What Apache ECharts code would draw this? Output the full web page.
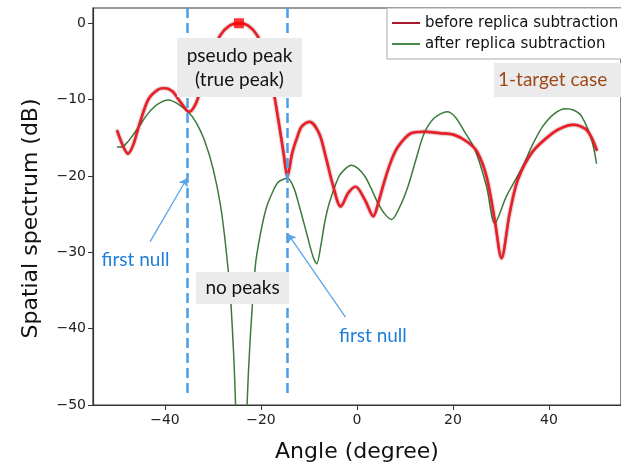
<!DOCTYPE html>
<html>
<head>
<meta charset="utf-8">
<script src="https://cdn.jsdelivr.net/npm/echarts@6/dist/echarts.min.js"></script>
<style>
html, body { margin: 0; padding: 0; background: #fff; }
#main { width: 621px; height: 469px; }
</style>
</head>
<body>
<div id="main"></div>
<script>
// spectrum before replica subtraction (red)
var beforeAngle = [-50, -48.8, -47.7, -46.6, -45.5, -43.5, -41.5, -40.1, -38.5, -36.8, -35.0, -33.5, -32.0, -30.0,
    -28.5, -26.5, -24.6, -22.7, -20.8, -19.0, -17.5, -16.3, -15.3, -14.5, -13.5, -12.5, -11.5, -9.9, -7.9, -6.5,
    -5.1, -3.4, -1.8, -0.3, 1.7, 3.4, 4.4, 5.8, 7.2, 8.5, 11.3, 14.0, 17.4, 20.2, 22.9, 25.0, 27.0, 28.7, 30.1,
    31.8, 33.5, 36.6, 40.7, 43.0, 45.1, 47.9, 50.0];
var beforeDb = [-14.0, -16.0, -17.1, -15.9, -13.6, -10.0, -8.7, -8.5, -8.9, -10.3, -11.6, -10.4, -7.5, -4.0,
    -1.6, -0.3, 0, -0.3, -1.6, -4.2, -8.5, -13.0, -17.0, -20.1, -17.0, -15.0, -13.5, -12.9, -14.4, -17.5,
    -21.0, -24.0, -22.2, -21.4, -23.2, -25.3, -23.6, -20.5, -17.9, -16.2, -14.4, -14.2, -14.4, -14.6, -15.5, -16.8, -20.1, -25.8, -30.8,
    -24.9, -20.5, -16.8, -14.4, -13.6, -13.3, -14.0, -16.7];

// spectrum after replica subtraction (green)
var afterAngle = [-50, -49, -48, -46.5, -45.5, -43.5, -41.5, -39.3, -37.5, -35.2, -33.5, -31.8, -30, -28.4, -27.3,
    -26.3, -25.3, -24.1, -22.9, -21.2, -20, -18.8, -17.5, -16.4, -14.5, -13.2, -12, -10.5, -9.2, -8.4, -7.5, -6.7,
    -5.8, -3.8, -2.5, -1.2, 0.2, 1.7, 3.0, 4.4, 5.8, 7.2, 8.8, 10.6, 12.3, 14, 16.1, 18.8, 20.5, 22.2, 24.6, 27,
    28.7, 31.1, 34.5, 36.5, 38.6, 41, 43.4, 45.2, 46.8, 48.9, 49.9];
var afterDb = [-16.2, -16.2, -15.7, -14.5, -13.6, -11.8, -10.6, -10.05, -10.5, -11.6, -13.0, -15.3, -19.0, -24.0, -29.5,
    -36.3, -50, -85, -50, -31.9, -27.2, -24.0, -22.0, -20.8, -20.3, -21.5, -24.0, -27.5, -30.5, -31.5, -29.0, -26.0,
    -23.6, -20.1, -19.1, -18.6, -19.0, -20.1, -21.7, -23.6, -25.0, -25.7, -24.2, -21.4, -17.8, -14.4, -12.4, -11.6, -12.3, -14.0, -16.6, -21.4,
    -26.2, -22.7, -18.8, -16.0, -13.6, -11.9, -11.2, -11.4, -12.2, -15.3, -18.4];

var peakAngle = [-24.6];
var peakDb = [0];
var nullAngles = [-35.4, -14.5];

var xTicks = [-40, -20, 0, 20, 40];
var yTicks = [-50, -40, -30, -20, -10, 0];

function pairs(xs, ys) {
    return xs.map(function (x, i) { return [x, ys[i]]; });
}
function minus(v) {
    return String(v).replace('-', '\u2212');
}

var myChart = echarts.init(document.getElementById('main'));

var axisFont = 'DejaVu Sans';
var noteFont = '19px Lato';

myChart.setOption({
    animation: false,
    grid: {
        left: 93, top: 8, right: -8, bottom: 64,
        show: true, borderColor: '#333', borderWidth: 1.2
    },
    legend: {
        orient: 'vertical',
        left: 387, top: 8,
        icon: 'rect',
        itemWidth: 28, itemHeight: 2, itemGap: 5,
        padding: [7, 4, 7, 5],
        backgroundColor: '#fff',
        borderColor: '#aaa', borderWidth: 1,
        textStyle: { fontFamily: axisFont, fontSize: 15, lineHeight: 16, color: '#111' },
        data: [
            { name: 'before replica subtraction', itemStyle: { color: '#a8182e' } },
            { name: 'after replica subtraction', itemStyle: { color: '#4a8a4a' } }
        ]
    },
    xAxis: {
        type: 'value', min: -55, max: 55,
        name: 'Angle (degree)', nameLocation: 'middle', nameGap: 36,
        nameTextStyle: { fontFamily: axisFont, fontSize: 22, color: '#111' },
        axisLine: { onZero: false, lineStyle: { color: '#333', width: 1.2 } },
        axisTick: { customValues: xTicks, length: 5, lineStyle: { color: '#333' } },
        axisLabel: { customValues: xTicks, margin: 8, fontFamily: axisFont, fontSize: 14, color: '#222', formatter: minus },
        splitLine: { show: false }
    },
    yAxis: {
        type: 'value', min: -50, max: 2,
        name: 'Spatial spectrum (dB)', nameLocation: 'middle', nameGap: 51,
        nameTextStyle: { fontFamily: axisFont, fontSize: 22, color: '#111', padding: [0, 24, 0, 0] },
        axisLine: { show: true, onZero: false, lineStyle: { color: '#333', width: 1.2 } },
        axisTick: { show: true, customValues: yTicks, length: 5, lineStyle: { color: '#333' } },
        axisLabel: { customValues: yTicks, margin: 7, fontFamily: axisFont, fontSize: 14, color: '#222', formatter: minus },
        splitLine: { show: false }
    },
    series: [
        {
            name: 'after replica subtraction',
            type: 'line',
            data: pairs(afterAngle, afterDb),
            smooth: 0.3,
            symbol: 'none',
            z: 2,
            itemStyle: { color: '#4a8a4a' },
            lineStyle: { color: '#3a7a3a', width: 1.5 }
        },
        {
            name: 'before replica subtraction',
            type: 'line',
            data: pairs(beforeAngle, beforeDb),
            smooth: 0.3,
            symbol: 'none',
            z: 3,
            itemStyle: { color: '#a8182e' },
            lineStyle: { color: '#ee1c24', width: 2.4, shadowColor: 'rgba(120,0,20,0.8)', shadowBlur: 2 }
        },
        {
            name: 'peak',
            type: 'scatter',
            data: pairs(peakAngle, peakDb),
            symbol: 'rect',
            symbolSize: 10,
            z: 5,
            itemStyle: { color: '#ff0000' }
        },
        {
            // first nulls
            name: 'nulls',
            type: 'line',
            data: [],
            z: 6,
            markLine: {
                silent: true,
                symbol: ['none', 'none'],
                label: { show: false },
                lineStyle: { type: [10, 5], color: '#4a9fe6', width: 2.5 },
                data: nullAngles.map(function (a) {
                    return [{ coord: [a, 2] }, { coord: [a, -48.7] }];
                })
            }
        },
        {
            name: 'arrows',
            type: 'line',
            data: [],
            z: 6,
            markLine: {
                silent: true,
                symbol: ['none', 'arrow'],
                symbolSize: 8,
                label: { show: false },
                lineStyle: { type: 'solid', color: '#5aa5e8', width: 1.3 },
                data: [
                    [{ coord: [-43.1, -28.6] }, { coord: [-35.4, -20.3] }],
                    [{ coord: [-2.4, -38.5] }, { coord: [-14.4, -27.6] }]
                ]
            }
        }
    ],
    graphic: [
        { type: 'rect', z: 10, shape: { x: 177, y: 38, width: 125, height: 59 }, style: { fill: '#ebebeb' } },
        { type: 'text', z: 11, style: { text: 'pseudo peak', x: 239.5, y: 56, font: noteFont, fill: '#111', align: 'center', verticalAlign: 'middle' } },
        { type: 'text', z: 11, style: { text: '(true peak)', x: 239.5, y: 80, font: noteFont, fill: '#111', align: 'center', verticalAlign: 'middle' } },
        { type: 'rect', z: 10, shape: { x: 196, y: 272, width: 93, height: 32 }, style: { fill: '#ebebeb' } },
        { type: 'text', z: 11, style: { text: 'no peaks', x: 242.5, y: 288, font: noteFont, fill: '#111', align: 'center', verticalAlign: 'middle' } },
        { type: 'rect', z: 10, shape: { x: 494, y: 63, width: 130, height: 34 }, style: { fill: '#ebebeb' } },
        { type: 'text', z: 11, style: { text: '1-target case', x: 498, y: 80, font: noteFont, fill: '#9c4a1a', align: 'left', verticalAlign: 'middle' } },
        { type: 'text', z: 11, style: { text: 'first null', x: 135.5, y: 260, font: noteFont, fill: '#1f7fd8', align: 'center', verticalAlign: 'middle' } },
        { type: 'text', z: 11, style: { text: 'first null', x: 339, y: 336, font: noteFont, fill: '#1f7fd8', align: 'left', verticalAlign: 'middle' } }
    ]
});
</script>
</body>
</html>
